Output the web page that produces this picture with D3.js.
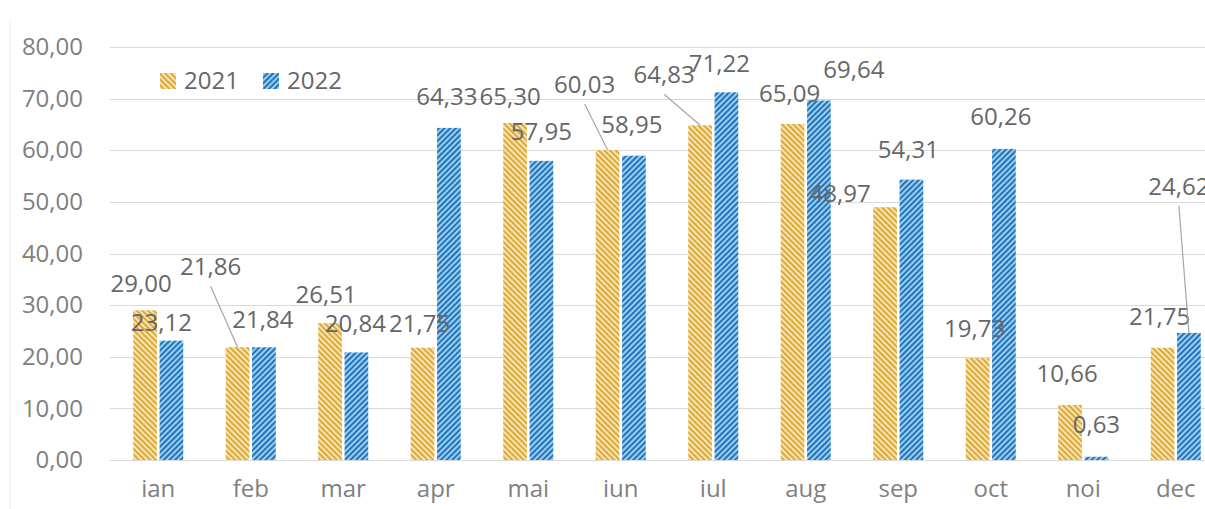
<!DOCTYPE html>
<html>
<head>
<meta charset="utf-8">
<script src="https://cdn.jsdelivr.net/npm/d3@7"></script>
<style>
  html, body { margin: 0; padding: 0; background: #ffffff; }
  svg { display: block; font-family: "Open Sans", "Noto Sans", sans-serif; }
</style>
</head>
<body>
<svg id="chart" width="1205" height="509"></svg>
<script>
// ---- data ----
const months = ["ian", "feb", "mar", "apr", "mai", "iun", "iul", "aug", "sep", "oct", "noi", "dec"];
const seriesNames = ["2021", "2022"];
const values2021 = [29.00, 21.86, 26.51, 21.75, 65.30, 60.03, 64.83, 65.09, 48.97, 19.73, 10.66, 21.75];
const values2022 = [23.12, 21.84, 20.84, 64.33, 57.95, 58.95, 71.22, 69.64, 54.31, 60.26, 0.63, 24.62];
const yTicks = [0, 10, 20, 30, 40, 50, 60, 70, 80];

// ---- label placement (layout, offsets from the bar top centre) ----
const labelOffsets2021 = [[-4, -18], [-27, -72], [-4, -20], [-3, -16], [-5, -18], [-23, -57], [-36, -42], [-3, -22], [-45, -5], [-3, -21], [-3, -23], [-3, -23]];
const labelOffsets2022 = [[-10, -10], [-1, -19], [-1, -20], [-2, -23], [0, -21], [-2, -23], [-7, -20], [35, -22], [-3, -22], [-3, -24], [0, -24], [-10, -138]];
const leader2021 = [false, true, false, false, false, true, true, false, false, false, false, false];
const leader2022 = [false, false, false, false, false, false, false, false, false, false, false, true];

const fmt = v => d3.format(".2f")(v).replace(".", ",");

const svg = d3.select("#chart");
const defs = svg.append("defs");

function hatch(id, dark, light, angle) {
  const p = defs.append("pattern")
    .attr("id", id)
    .attr("patternUnits", "userSpaceOnUse")
    .attr("width", 4).attr("height", 4)
    .attr("patternTransform", `rotate(${angle})`);
  p.append("rect").attr("width", 4).attr("height", 4).attr("fill", light);
  p.append("rect").attr("width", 2).attr("height", 4).attr("fill", dark);
}
hatch("pat2021", "#DCA93C", "#F8E4AE", -45);
hatch("pat2022", "#2275BA", "#9ACDEF", 45);
const fills = ["url(#pat2021)", "url(#pat2022)"];

const x0 = d3.scaleBand().domain(months).range([112, 1222]).padding(0);
const x1 = d3.scaleBand().domain(seriesNames)
  .range([x0.bandwidth() / 2 - 25, x0.bandwidth() / 2 + 25]).paddingInner(0.1);
const y = d3.scaleLinear().domain([0, 80]).range([460, 47]);

// faint left border
svg.append("line").attr("x1", 10).attr("x2", 10).attr("y1", 20).attr("y2", 509)
  .attr("stroke", "#eeeeee").attr("stroke-width", 1);

// gridlines
svg.append("g").selectAll("line").data(yTicks).join("line")
  .attr("x1", 110).attr("x2", 1205)
  .attr("y1", d => Math.round(y(d)) + 0.5).attr("y2", d => Math.round(y(d)) + 0.5)
  .attr("stroke", "#d9d9d9").attr("stroke-width", 1);

// y axis labels
const yAxis = d3.axisLeft(y).tickValues(yTicks).tickFormat(fmt).tickSize(0).tickPadding(0);
const gy = svg.append("g").attr("transform", "translate(83,0)").call(yAxis);
gy.select(".domain").remove();
gy.selectAll("text").attr("fill", "#808080").style("font-size", "24px")
  .style("font-family", "'Open Sans', sans-serif");

// x axis labels
const xAxis = d3.axisBottom(x0).tickSize(0).tickPadding(0);
const gx = svg.append("g").attr("transform", "translate(0,480)").call(xAxis);
gx.select(".domain").remove();
gx.selectAll("text").attr("fill", "#808080").style("font-size", "24px")
  .style("font-family", "'Open Sans', sans-serif").attr("dy", "0.71em");

// bars
const allSeries = [values2021, values2022];
const allOffsets = [labelOffsets2021, labelOffsets2022];
const allLeaders = [leader2021, leader2022];
const bars = svg.append("g");
allSeries.forEach((vals, si) => {
  bars.selectAll(".b" + si).data(vals).join("rect")
    .attr("class", "b" + si)
    .attr("x", (d, i) => x0(months[i]) + x1(seriesNames[si]))
    .attr("width", x1.bandwidth())
    .attr("y", d => y(d))
    .attr("height", d => y(0) - y(d))
    .attr("fill", fills[si]);
});

// leader lines + labels
const labels = svg.append("g");
allSeries.forEach((vals, si) => {
  vals.forEach((v, i) => {
    const cx = x0(months[i]) + x1(seriesNames[si]) + x1.bandwidth() / 2;
    const top = y(v);
    const [dx, dy] = allOffsets[si][i];
    const lx = cx + dx, ly = top + dy;
    if (allLeaders[si][i]) {
      labels.append("line")
        .attr("x1", lx).attr("y1", ly + 11)
        .attr("x2", cx).attr("y2", top)
        .attr("stroke", "#a6a6a6").attr("stroke-width", 1.2);
    }
    labels.append("text")
      .attr("x", lx).attr("y", ly)
      .attr("text-anchor", "middle")
      .attr("fill", "#666666")
      .style("font-size", "24px")
      .text(fmt(v));
  });
});

// legend
const legend = svg.append("g");
const legendX = [160, 263];
seriesNames.forEach((s, i) => {
  legend.append("rect").attr("x", legendX[i]).attr("y", 73).attr("width", 16).attr("height", 16)
    .attr("fill", fills[i]);
  legend.append("text").attr("x", legendX[i] + 24).attr("y", 89)
    .attr("fill", "#666666").style("font-size", "24px").text(s);
});
</script>
</body>
</html>
